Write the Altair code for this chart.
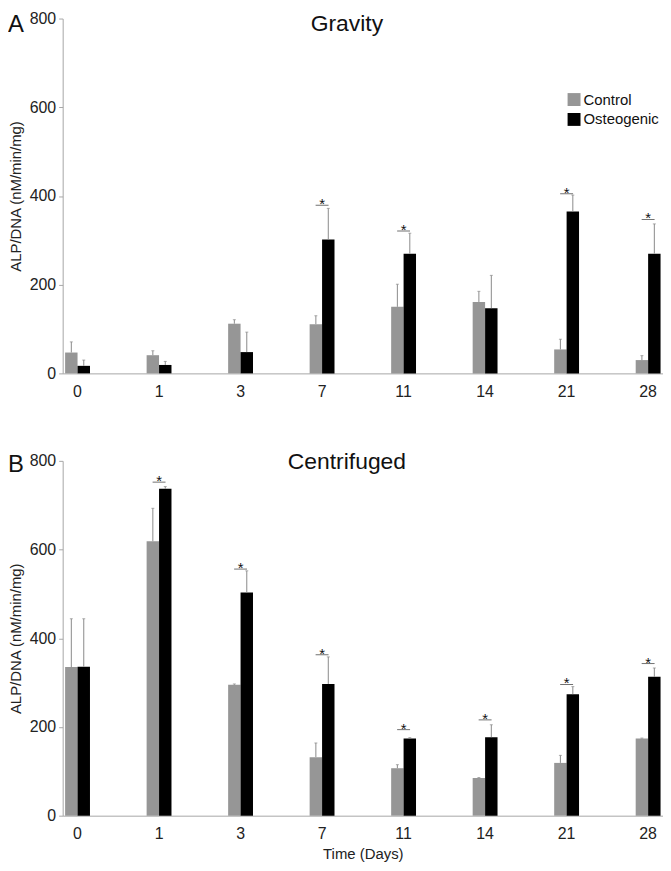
import altair as alt
import pandas as pd

days = ["0", "1", "3", "7", "11", "14", "21", "28"]
groups = ["Control", "Osteogenic"]

# Gravity panel (A)
grav_control = [47, 41, 112, 111, 150, 161, 54, 30]
grav_control_err = [24, 10, 9, 19, 51, 24, 23, 10]
grav_osteo = [17, 19, 48, 302, 270, 147, 365, 270]
grav_osteo_err = [13, 8, 45, 70, 46, 74, 37, 67]
grav_sig_days = ["7", "11", "21", "28"]
grav_sig_level = [379, 321, 405, 347]

# Centrifuged panel (B)
cent_control = [335, 619, 295, 132, 107, 85, 119, 174]
cent_control_err = [109, 74, 2, 32, 8, 1, 17, 1]
cent_osteo = [336, 737, 503, 297, 174, 177, 274, 313]
cent_osteo_err = [108, 5, 49, 61, 2, 28, 17, 20]
cent_sig_days = ["1", "3", "7", "11", "14", "21", "28"]
cent_sig_level = [752, 556, 363, 194, 216, 296, 343]

FONT = "Liberation Sans"
W, H = 604, 357


def make_df(ctrl, ctrl_err, ost, ost_err):
    rows = []
    for d, v, e in zip(days, ctrl, ctrl_err):
        rows.append({"day": d, "group": "Control", "value": v, "top": v + e})
    for d, v, e in zip(days, ost, ost_err):
        rows.append({"day": d, "group": "Osteogenic", "value": v, "top": v + e})
    return pd.DataFrame(rows)


def panel(df, sig_days, sig_level, title, letter, show_legend, show_xtitle,
          title_y, letter_y):
    x = alt.X(
        "day:N",
        sort=days,
        scale=alt.Scale(paddingInner=0.695, paddingOuter=0.03),
        axis=alt.Axis(
            title="Time (Days)" if show_xtitle else None,
            ticks=False,
            labelAngle=0,
            labelPadding=10,
            labelFontSize=16,
            labelFont=FONT,
            labelColor="#222222",
            domainColor="#a6a6a6",
            titleFont=FONT,
            titleFontSize=15,
            titleFontWeight="normal",
            titleColor="#222222",
            titlePadding=5,
        ),
    )
    y = alt.Y(
        "value:Q",
        scale=alt.Scale(domain=[0, 800], nice=False),
        axis=alt.Axis(
            title="ALP/DNA (nM/min/mg)",
            values=[0, 200, 400, 600, 800],
            grid=False,
            tickSize=4,
            tickColor="#a6a6a6",
            domainColor="#a6a6a6",
            labelPadding=3,
            labelFontSize=16,
            labelFont=FONT,
            labelColor="#222222",
            titleFont=FONT,
            titleFontSize=15,
            titleFontWeight="normal",
            titleColor="#222222",
            titlePadding=6,
        ),
    )
    xoff = alt.XOffset(
        "group:N", sort=groups, scale=alt.Scale(paddingInner=0, paddingOuter=0)
    )
    legend = (
        alt.Legend(
            orient="none",
            legendX=507,
            legendY=74,
            title=None,
            symbolType="square",
            symbolSize=169,
            symbolStrokeWidth=0,
            labelFontSize=15,
            labelFont=FONT,
            labelColor="#111111",
            labelOffset=2,
            rowPadding=4,
            padding=0,
        )
        if show_legend
        else None
    )
    color = alt.Color(
        "group:N",
        scale=alt.Scale(domain=groups, range=["#969696", "#000000"]),
        legend=legend,
    )
    base = alt.Chart(df)
    bars = base.mark_bar().encode(x=x, xOffset=xoff, y=y, color=color)
    err = base.mark_rule(color="#8a8a8a", strokeWidth=1).encode(
        x=alt.X("day:N", sort=days), xOffset=xoff, y="value:Q", y2="top:Q"
    )
    cap = base.mark_tick(color="#8a8a8a", size=3, thickness=1).encode(
        x=alt.X("day:N", sort=days), xOffset=xoff, y="top:Q"
    )
    sig = pd.DataFrame({"day": sig_days, "level": sig_level})
    sig_line = alt.Chart(sig).mark_tick(color="#333333", size=13, thickness=1).encode(
        x=alt.X("day:N", sort=days), y="level:Q"
    )
    star = alt.Chart(sig).mark_text(
        text="*", font=FONT, fontSize=15, baseline="alphabetic", dy=4, color="#111111"
    ).encode(x=alt.X("day:N", sort=days), y="level:Q")
    ttl = alt.Chart(pd.DataFrame({"t": [title]})).mark_text(
        font=FONT, fontSize=23, baseline="alphabetic", align="center", color="#111111"
    ).encode(text="t:N", x=alt.value(286), y=alt.value(title_y))
    let = alt.Chart(pd.DataFrame({"t": [letter]})).mark_text(
        font=FONT, fontSize=24, baseline="alphabetic", align="left", color="#111111"
    ).encode(text="t:N", x=alt.value(-55), y=alt.value(letter_y))
    return alt.layer(bars, err, cap, sig_line, star, ttl, let).properties(
        width=W, height=H
    )


top = panel(
    make_df(grav_control, grav_control_err, grav_osteo, grav_osteo_err),
    grav_sig_days, grav_sig_level, "Gravity", "A", True, False, 13, 14,
)
bottom = panel(
    make_df(cent_control, cent_control_err, cent_osteo, cent_osteo_err),
    cent_sig_days, cent_sig_level, "Centrifuged", "B", False, True, 8, 11,
)

chart = (
    alt.vconcat(top, bottom, spacing=52)
    .resolve_scale(color="independent")
    .properties(padding={"left": 0, "top": 0, "right": 0, "bottom": 0})
    .configure_view(stroke=None)
)

chart.save("out.html", embed_options={"renderer": "svg", "actions": False})
